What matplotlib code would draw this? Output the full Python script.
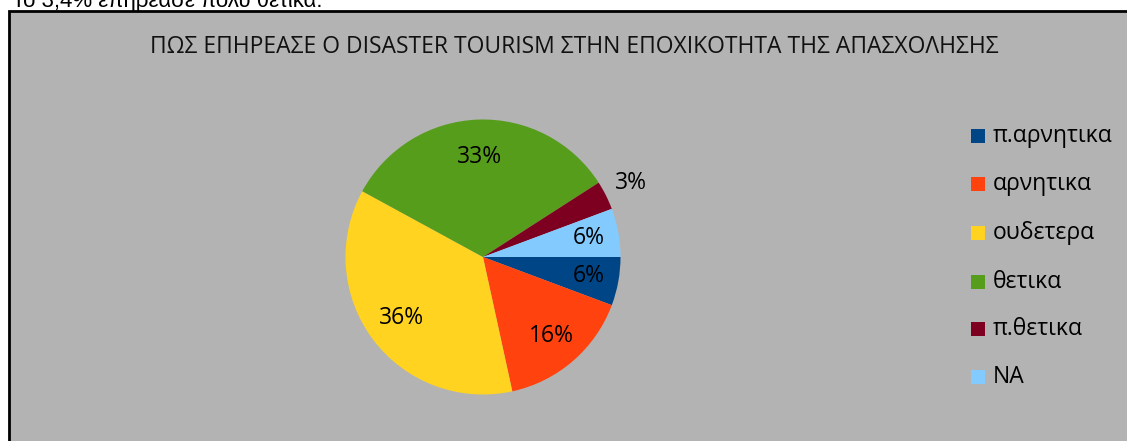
import matplotlib
matplotlib.use("Agg")
import matplotlib.pyplot as plt
from matplotlib.patches import Rectangle
import numpy as np

categories = ["π.αρνητικα", "αρνητικα", "ουδετερα", "θετικα", "π.θετικα", "NA"]
values = [5.7, 15.9, 36.4, 33.0, 3.4, 5.7]
pct_labels = ["6%", "16%", "36%", "33%", "3%", "6%"]
colors = ["#004586", "#FF420E", "#FFD320", "#579D1C", "#7E0021", "#83CAFF"]
title = "ΠΩΣ ΕΠΗΡΕΑΣΕ Ο DISASTER TOURISM ΣΤΗΝ ΕΠΟΧΙΚΟΤΗΤΑ ΤΗΣ ΑΠΑΣΧΟΛΗΣΗΣ"
top_text = "Το 3,4% επηρέασε πολύ θετικά."

W, H = 1127, 441
fig = plt.figure(figsize=(W / 100, H / 100), dpi=100)
fig.patch.set_facecolor("white")

def fx(px):
    return px / W

def fy(py):
    return 1 - py / H

# chart area
rect = Rectangle((fx(8.5), fy(460)), fx(1130) - fx(8.5), fy(11.5) - fy(460),
                 transform=fig.transFigure, facecolor="#B3B3B3",
                 edgecolor="black", linewidth=2.0, zorder=-5)
fig.patches.append(rect)

# cut-off paragraph text above
fig.text(fx(12), fy(6.5), top_text, fontsize=16, family="Liberation Sans",
         va="baseline", ha="left", color="black")

fig.text(fx(574), fy(47), title, fontsize=16.5, family="Open Sans",
         ha="center", va="center", color="#111111")

cx, cy, r = 483, 257, 137.5
ax = fig.add_axes([fx(cx - r), fy(cy + r), (2 * r) / W, (2 * r) / H])
ax.set_zorder(2)
ax.patch.set_visible(False)
wedges, _ = ax.pie(values, colors=colors, startangle=0, counterclock=False,
                   radius=1, wedgeprops=dict(linewidth=0))
ax.set_xlim(-1, 1)
ax.set_ylim(-1, 1)
ax.axis("off")

dists = [0.78, 0.76, 0.74, 0.73, 1.2, 0.78]
for w, lab, d in zip(wedges, pct_labels, dists):
    ang = np.deg2rad((w.theta1 + w.theta2) / 2)
    ax.text(d * np.cos(ang), d * np.sin(ang), lab, ha="center", va="center",
            fontsize=16.5, family="Open Sans", color="black", clip_on=False)

# legend
legend_y = [136, 184, 233, 282, 329, 377]
for c, name, ly in zip(colors, categories, legend_y):
    fig.patches.append(Rectangle((fx(971), fy(ly + 7)), 14 / W, 14 / H,
                                 transform=fig.transFigure, facecolor=c,
                                 edgecolor="none", zorder=3))
    fig.text(fx(993), fy(ly), name, fontsize=16.5, family="Open Sans",
             ha="left", va="center", color="black")

fig.savefig("out.png", dpi=100)
